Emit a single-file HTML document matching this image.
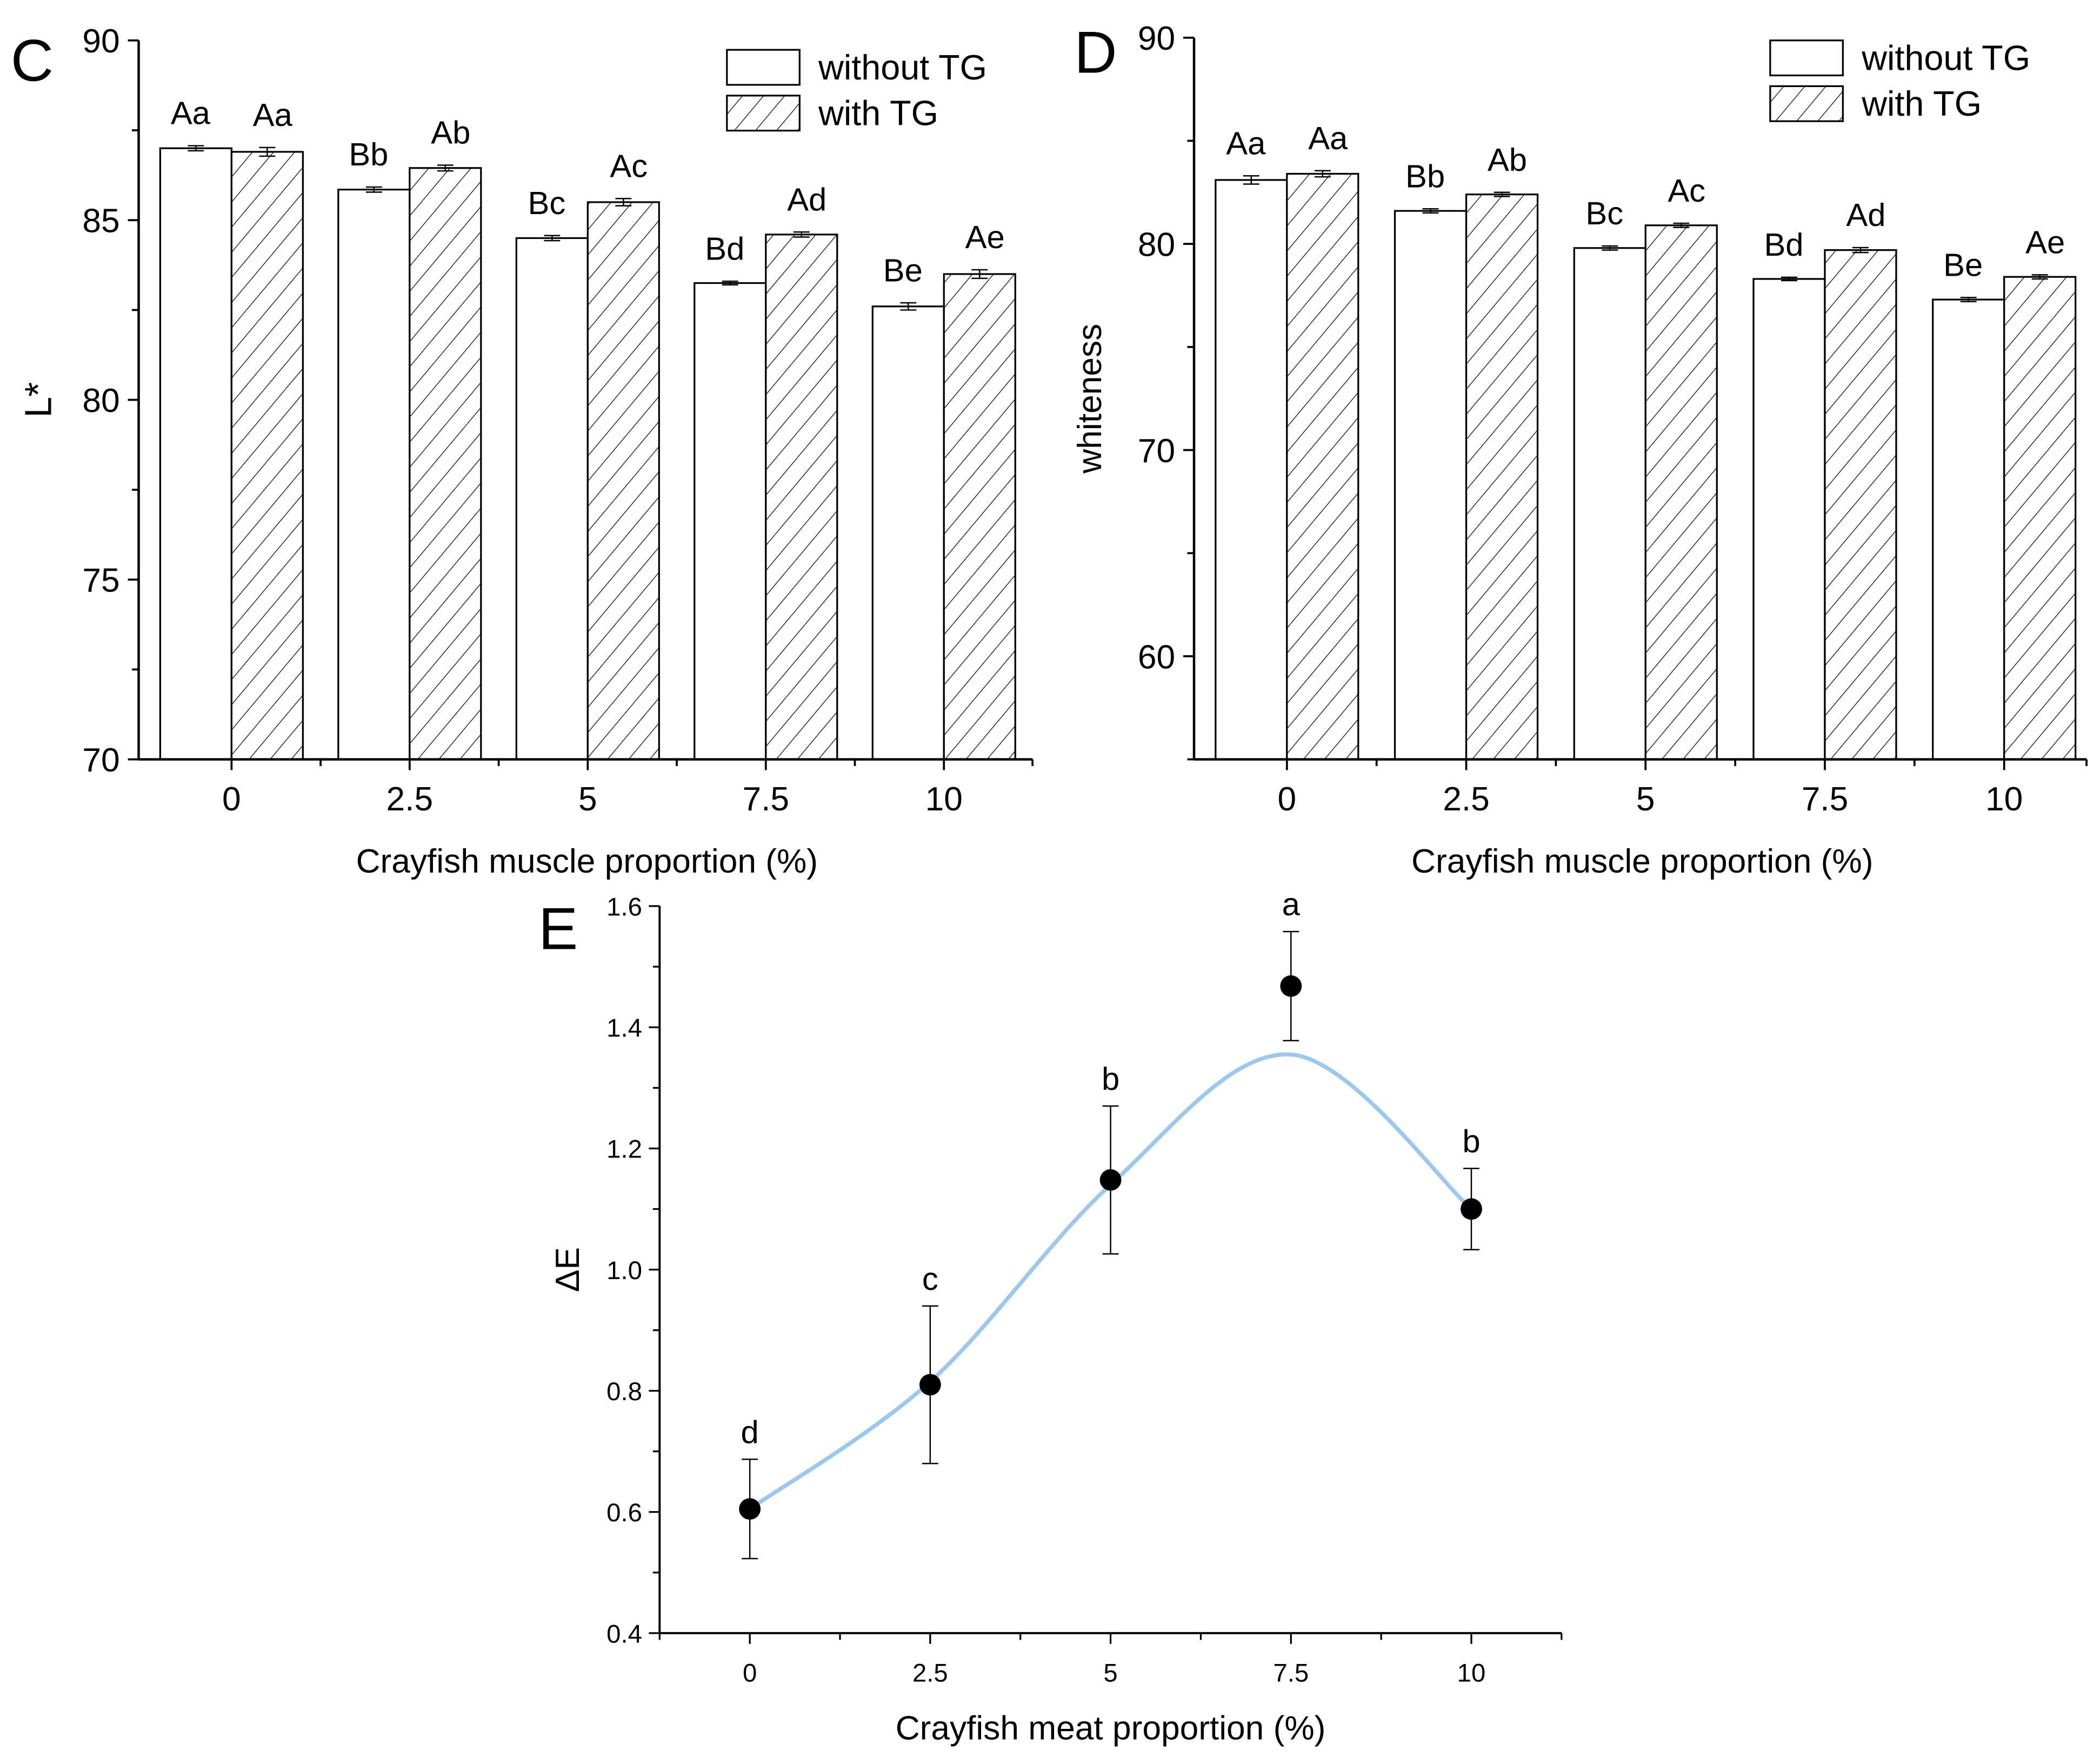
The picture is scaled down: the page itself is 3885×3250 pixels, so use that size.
<!DOCTYPE html>
<html><head><meta charset="utf-8"><style>
html,body{margin:0;padding:0;background:#fff}
svg{display:block;font-family:"Liberation Sans",Arial,sans-serif}
</style></head><body>
<svg id="fig" width="3885" height="3250" viewBox="0 0 1560 1305" xmlns="http://www.w3.org/2000/svg">
<defs>
<pattern id="hatch" patternUnits="userSpaceOnUse" width="12" height="12" patternTransform="rotate(40)">
<rect width="12" height="12" fill="#fff"/><line x1="0" y1="0" x2="0" y2="12" stroke="#000" stroke-width="1"/>
</pattern>
</defs>
<g id="root"></g>
</svg>
<script>
// Panel C data
const catsX = ["0","2.5","5","7.5","10"];
const cWithout = [87.0, 85.85, 84.5, 83.25, 82.6];
const cWithoutErr = [0.07, 0.07, 0.07, 0.05, 0.1];
const cWith = [86.9, 86.45, 85.5, 84.6, 83.5];
const cWithErr = [0.12, 0.08, 0.1, 0.07, 0.12];
const cLabWithout = ["Aa","Bb","Bc","Bd","Be"];
const cLabWith = ["Aa","Ab","Ac","Ad","Ae"];
const cTicks = [70,75,80,85,90];
// Panel D data
const dWithout = [83.1, 81.6, 79.8, 78.3, 77.3];
const dWithoutErr = [0.2, 0.1, 0.1, 0.08, 0.1];
const dWith = [83.4, 82.4, 80.9, 79.7, 78.4];
const dWithErr = [0.15, 0.1, 0.1, 0.12, 0.1];
const dLabWithout = ["Aa","Bb","Bc","Bd","Be"];
const dLabWith = ["Aa","Ab","Ac","Ad","Ae"];
const dTicks = [60,70,80,90];
// Panel E data
const eX = [0,2.5,5,7.5,10];
const eVals = [0.605, 0.81, 1.148, 1.468, 1.10];
const eErr = [0.082, 0.13, 0.122, 0.09, 0.067];
const eLabs = ["d","c","b","a","b"];
const eFit = [0.605, 0.815, 1.14, 1.355, 1.10];
const eYTicks = [0.4,0.6,0.8,1.0,1.2,1.4,1.6];
const eXTicks = ["0","2.5","5","7.5","10"];

const NS="http://www.w3.org/2000/svg";
const root=document.getElementById('root');
function el(tag,attrs,parent,text){const e=document.createElementNS(NS,tag);for(const k in attrs)e.setAttribute(k,attrs[k]);if(text!==undefined)e.textContent=text;(parent||root).appendChild(e);return e;}

function barPanel(o){
  const g=el('g',{});
  
  
  const y=v=>o.y1-(v-o.ymin)/(o.ymax-o.ymin)*(o.y1-o.y0);
  const xc=i=>o.cx0+i*o.step;
  const bw=o.bw;
  for(let i=0;i<catsX.length;i++){
    const b1=el('rect',{x:xc(i)-bw,y:y(o.a[i]),width:bw,height:o.y1-y(o.a[i]),fill:'#fff',stroke:'#000','stroke-width':1.3},g);
    
    
    const b2=el('rect',{x:xc(i),y:y(o.b[i]),width:bw,height:o.y1-y(o.b[i]),fill:'url(#hatch)',stroke:'#000','stroke-width':1.3},g);
    
    
    [[xc(i)-bw/2,o.a[i],o.ae[i]],[xc(i)+bw/2,o.b[i],o.be[i]]].forEach(([x,v,e])=>{
      el('path',{d:`M${x},${y(v+e)}V${y(v-e)}M${x-6},${y(v+e)}h12M${x-6},${y(v-e)}h12`,stroke:'#000','stroke-width':1},g);
    });
    const t1=el('text',{x:xc(i)-bw/2-4,y:y(o.a[i]+o.ae[i])-o.lo,'font-size':24,'text-anchor':'middle'},g,o.la[i]);
    
    
    const t2=el('text',{x:xc(i)+bw/2+4,y:y(o.b[i]+o.be[i])-o.lo,'font-size':24,'text-anchor':'middle'},g,o.lb[i]);
    
    
    el('line',{x1:xc(i),y1:o.y1,x2:xc(i),y2:o.y1+8,stroke:'#000','stroke-width':1.5},g);
    if(i<catsX.length-1) el('line',{x1:xc(i)+o.step/2,y1:o.y1,x2:xc(i)+o.step/2,y2:o.y1+5,stroke:'#000','stroke-width':1.5},g);
    const tl=el('text',{x:xc(i),y:o.y1+38,'font-size':25,'text-anchor':'middle'},g,catsX[i]);
    
    
  }
  el('line',{x1:o.x0,y1:o.y1,x2:o.x1,y2:o.y1,stroke:'#000','stroke-width':1.8},g);
  el('line',{x1:o.x0,y1:o.y0,x2:o.x0,y2:o.y1,stroke:'#000','stroke-width':1.8},g);
  el('line',{x1:o.x0,y1:o.y1,x2:o.x0-5,y2:o.y1,stroke:'#000','stroke-width':1.5},g);
  el('line',{x1:o.x1,y1:o.y1,x2:o.x1,y2:o.y1+5,stroke:'#000','stroke-width':1.5},g);
  o.ticks.forEach((t,k)=>{
    el('line',{x1:o.x0-8,y1:y(t),x2:o.x0,y2:y(t),stroke:'#000','stroke-width':1.5},g);
    if(k<o.ticks.length-1) el('line',{x1:o.x0-5,y1:y(t+o.minor),x2:o.x0,y2:y(t+o.minor),stroke:'#000','stroke-width':1.5},g);
    const tt=el('text',{x:o.x0-14,y:y(t)+9,'font-size':25,'text-anchor':'end'},g,String(t));
    
    
  });
  const xt=el('text',{x:o.xtx,y:o.y1+84,'font-size':25,'text-anchor':'middle','xml:space':'preserve'},g,'Crayfish muscle proportion  (%)');
  
  
  const yt=el('text',{x:o.ytx,y:(o.y0+o.y1)/2,'font-size':o.ytfs,'text-anchor':'middle',transform:`rotate(-90 ${o.ytx} ${(o.y0+o.y1)/2})`},g,o.ytitle);
  
  
  const pl=el('text',{x:o.px,y:o.py,'font-size':44},g,o.letter);
  
  
  const lg=el('g',{},g);
  
  
  el('rect',{x:o.lx,y:o.ly,width:54,height:26,fill:'#fff',stroke:'#000','stroke-width':1.3},lg);
  el('rect',{x:o.lx,y:o.ly+34,width:54,height:26,fill:'url(#hatch)',stroke:'#000','stroke-width':1.3},lg);
  el('text',{x:o.lx+68,y:o.ly+22,'font-size':26},lg,'without TG');
  el('text',{x:o.lx+68,y:o.ly+56,'font-size':26},lg,'with TG');
}
barPanel({name:'panel-c-chart',x0:103,x1:767,y0:30,y1:564,ymin:70,ymax:90,cx0:172,step:132.3,bw:53,
  a:cWithout,ae:cWithoutErr,b:cWith,be:cWithErr,la:cLabWithout,lb:cLabWith,ticks:cTicks,minor:2.5,lo:16,
  ytitle:'L*',ytx:38,ytfs:28,letter:'C',px:8,py:60,lx:540,ly:37,xtx:436});
barPanel({name:'panel-d-chart',x0:887,x1:1550,y0:28,y1:564,ymin:55,ymax:90,cx0:956,step:133.2,bw:53,
  a:dWithout,ae:dWithoutErr,b:dWith,be:dWithErr,la:dLabWithout,lb:dLabWith,ticks:dTicks,minor:5,lo:16,
  ytitle:'whiteness',ytx:818,ytfs:25,letter:'D',px:798,py:54,lx:1315,ly:30,xtx:1220});

// Panel E
(function(){
  const g=el('g',{});
  
  
  const X0=490,X1=1160,Y0=673,Y1=1213;
  const xs=v=>557+v/10*(1093-557);
  const ys=v=>Y1-(v-0.4)/1.2*(Y1-Y0);
  const pts=eX.map((v,i)=>[xs(v),ys(eFit[i])]);
  let d=`M${pts[0][0]},${pts[0][1]}`;
  for(let i=0;i<pts.length-1;i++){
    const p0=pts[Math.max(0,i-1)],p1=pts[i],p2=pts[i+1],p3=pts[Math.min(pts.length-1,i+2)];
    const c1=[p1[0]+(p2[0]-p0[0])/6,p1[1]+(p2[1]-p0[1])/6],c2=[p2[0]-(p3[0]-p1[0])/6,p2[1]-(p3[1]-p1[1])/6];
    d+=`C${c1[0]},${c1[1]} ${c2[0]},${c2[1]} ${p2[0]},${p2[1]}`;
  }
  const fit=el('path',{d:d,fill:'none',stroke:'#9cc8ef','stroke-width':3},g);
  
  
  eX.forEach((v,i)=>{
    const x=xs(v);
    el('path',{d:`M${x},${ys(eVals[i]+eErr[i])}V${ys(eVals[i]-eErr[i])}M${x-6},${ys(eVals[i]+eErr[i])}h12M${x-6},${ys(eVals[i]-eErr[i])}h12`,stroke:'#000','stroke-width':1},g);
    const c=el('circle',{cx:x,cy:ys(eVals[i]),r:8,fill:'#000'},g);
    
    
    const t=el('text',{x:x,y:ys(eVals[i]+eErr[i])-12,'font-size':24,'text-anchor':'middle'},g,eLabs[i]);
    
    
    el('line',{x1:x,y1:Y1,x2:x,y2:Y1+8,stroke:'#000','stroke-width':1.3},g);
    const tl=el('text',{x:x,y:Y1+36,'font-size':19,'text-anchor':'middle'},g,eXTicks[i]);
    
    
  });
  [-1.25,1.25,3.75,6.25,8.75,11.25].forEach(v=>el('line',{x1:xs(v),y1:Y1,x2:xs(v),y2:Y1+5,stroke:'#000','stroke-width':1.3},g));
  eYTicks.forEach((t,k)=>{
    el('line',{x1:X0-8,y1:ys(t),x2:X0,y2:ys(t),stroke:'#000','stroke-width':1.3},g);
    if(k<eYTicks.length-1) el('line',{x1:X0-5,y1:ys(t+0.1),x2:X0,y2:ys(t+0.1),stroke:'#000','stroke-width':1.3},g);
    const tt=el('text',{x:X0-13,y:ys(t)+7,'font-size':19,'text-anchor':'end'},g,t.toFixed(1));
    
    
  });
  el('line',{x1:X0,y1:Y1,x2:X1,y2:Y1,stroke:'#000','stroke-width':1.6},g);
  el('line',{x1:X0,y1:Y0,x2:X0,y2:Y1,stroke:'#000','stroke-width':1.6},g);
  const xt=el('text',{x:825,y:1292,'font-size':25,'text-anchor':'middle'},g,'Crayfish meat proportion (%)');
  
  
  const yt=el('text',{x:430,y:943,'font-size':25,'text-anchor':'middle',transform:'rotate(-90 430 943)'},g,'ΔE');
  
  
  const pl=el('text',{x:400,y:705,'font-size':44},g,'E');
  
  
})();
</script>
</body></html>
